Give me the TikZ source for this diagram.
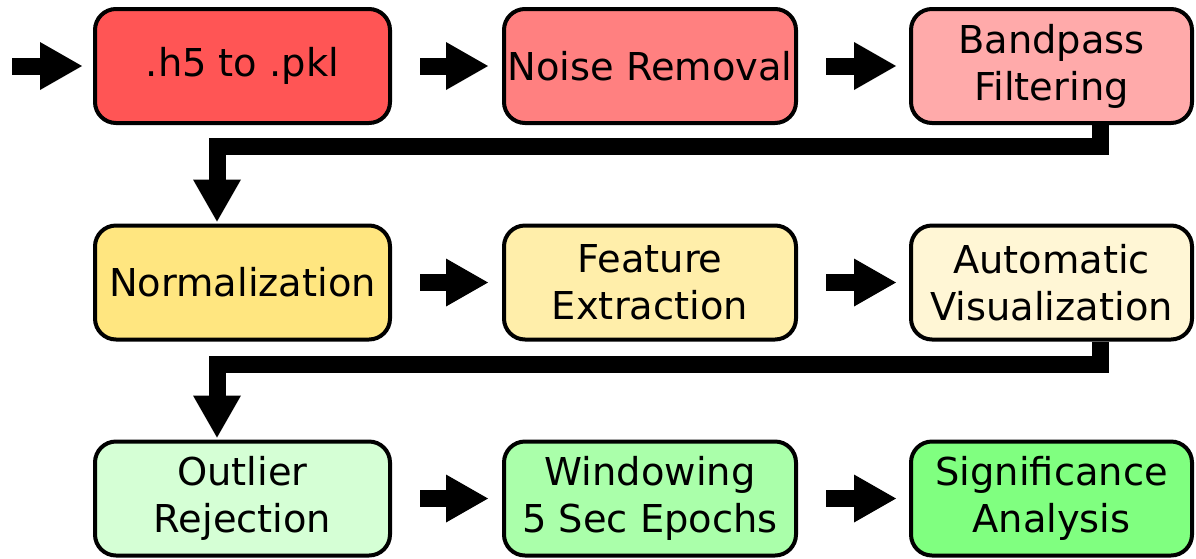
\documentclass[tikz,border=0pt]{standalone}
\usepackage{fontspec}
\setmainfont{DejaVu Sans}
\usetikzlibrary{arrows.meta}

% stage fills, from warm (loading) through yellow (features) to green (analysis)
\definecolor{redA}{HTML}{FF5555}
\definecolor{redB}{HTML}{FF8080}
\definecolor{redC}{HTML}{FFAAAA}
\definecolor{yelA}{HTML}{FFE680}
\definecolor{yelB}{HTML}{FFEEAA}
\definecolor{yelC}{HTML}{FFF6D5}
\definecolor{grnA}{HTML}{D5FFD5}
\definecolor{grnB}{HTML}{AAFFAA}
\definecolor{grnC}{HTML}{80FF80}

\begin{document}
\begin{tikzpicture}[x=1pt,y=-1pt,
  stage/.style={draw=black, line width=4pt, rounded corners=21pt,
    align=center, inner sep=0pt, minimum height=114pt,
    font=\fontsize{38.4}{47}\selectfont},
  colA/.style={stage, minimum width=295pt},
  colB/.style={stage, minimum width=292pt},
  colC/.style={stage, minimum width=281pt},
  flow/.style={draw=black, line width=17pt, line join=miter,
    -{Triangle[width=48pt,length=42pt,line width=0pt 0]}}
]
\fill[white] (0,0) rectangle (1196,558);
\useasboundingbox (0,0) rectangle (1196,558);

% row 1: data loading and cleaning
\node[colA, fill=redA] (s11) at (242.5,66) {.h5 to .pkl};
\node[colB, fill=redB] (s12) at (650,66) {Noise Removal};
\node[colC, fill=redC] (s13) at (1051.5,66) {Bandpass\\Filtering};

% row 2: feature work
\node[colA, fill=yelA] (s21) at (242.5,282.5) {Normalization};
\node[colB, fill=yelB] (s22) at (650,282.5) {Feature\\Extraction};
\node[colC, fill=yelC] (s23) at (1051.5,282.5) {Automatic\\Visualization};

% row 3: epochs and statistics
\node[colA, fill=grnA] (s31) at (242.5,498.5) {Outlier\\Rejection};
\node[colB, fill=grnB] (s32) at (650,498.5) {Windowing\\5 Sec Epochs};
\node[colC, fill=grnC] (s33) at (1051.5,498.5) {Significance\\Analysis};

% input arrow
\coordinate (input) at (12,66);
\draw[flow] (input) -- ([xshift=-11pt]s11.west);

% arrows within each row
\draw[flow] ([xshift=28pt]s11.east) -- ([xshift=-14pt]s12.west);
\draw[flow] ([xshift=28pt]s12.east) -- ([xshift=-13pt]s13.west);
\draw[flow] ([xshift=28pt]s21.east) -- ([xshift=-14pt]s22.west);
\draw[flow] ([xshift=28pt]s22.east) -- ([xshift=-13pt]s23.west);
\draw[flow] ([xshift=28pt]s31.east) -- ([xshift=-14pt]s32.west);
\draw[flow] ([xshift=28pt]s32.east) -- ([xshift=-13pt]s33.west);

% wrap-around arrows from the end of one row to the start of the next
\draw[flow] ([xshift=49pt]s13.south) -- ++(0,21)
  -| ([xshift=-25.5pt,yshift=2pt]s21.north);
\draw[flow] ([xshift=49pt]s23.south) -- ++(0,23)
  -| ([xshift=-25.5pt,yshift=2pt]s31.north);
\end{tikzpicture}
\end{document}
